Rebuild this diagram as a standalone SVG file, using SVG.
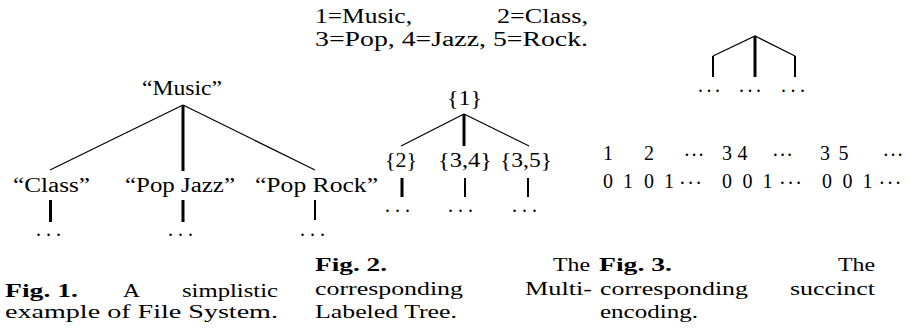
<svg xmlns="http://www.w3.org/2000/svg" width="910" height="335" viewBox="0 0 910 335" font-family="'Liberation Serif', 'DejaVu Serif', 'Noto Serif', 'Times New Roman', Times, serif">
<style>
text{font-family:'Liberation Serif','DejaVu Serif','Noto Serif','Times New Roman',Times,serif;font-size:20px;fill:#000}
.cap{font-size:19px}
.b{font-weight:bold}
.thin{stroke:#000;stroke-width:1.2;fill:none}
.thick{stroke:#000;stroke-width:3;fill:none}
.med{stroke:#000;stroke-width:2;fill:none}
</style>
<rect width="910" height="335" fill="#fff"/>
<g id="connectors">
<line class="thin" x1="183" y1="105" x2="50" y2="170"/>
<line class="thick" x1="183" y1="105" x2="183" y2="171"/>
<line class="thin" x1="183" y1="105" x2="315" y2="170"/>
<line class="thick" x1="50.5" y1="200" x2="50.5" y2="222"/>
<line class="thick" x1="183" y1="200" x2="183" y2="222"/>
<line class="med" x1="315" y1="200" x2="315" y2="220"/>
<line class="thin" x1="464" y1="114" x2="401" y2="146"/>
<line class="thick" x1="464" y1="114" x2="464" y2="146"/>
<line class="thin" x1="464" y1="114" x2="529" y2="146"/>
<line class="thick" x1="402" y1="178" x2="402" y2="197"/>
<line class="med" x1="465" y1="178" x2="465" y2="197"/>
<line class="med" x1="528" y1="178" x2="528" y2="197"/>
<polyline class="thin" points="713,56 755,36 795,56"/>
<line class="med" x1="713" y1="56" x2="713" y2="77"/>
<line class="thick" x1="755" y1="36" x2="755" y2="77"/>
<line class="med" x1="795" y1="56" x2="795" y2="77"/>
</g>
<g id="music"><text x="142" y="95" textLength="80" lengthAdjust="spacingAndGlyphs">“Music”</text></g>
<g id="class"><text x="13" y="192" textLength="77" lengthAdjust="spacingAndGlyphs">“Class”</text></g>
<g id="popjazz"><text x="125" y="192" textLength="110" lengthAdjust="spacingAndGlyphs">“Pop Jazz”</text></g>
<g id="poprock"><text x="255" y="192" textLength="123" lengthAdjust="spacingAndGlyphs">“Pop Rock”</text></g>
<g id="dots1">
<text x="36" y="236" textLength="25" lengthAdjust="spacing">...</text>
<text x="168" y="236" textLength="25" lengthAdjust="spacing">...</text>
<text x="300" y="236" textLength="25" lengthAdjust="spacing">...</text>
</g>
<g id="legend">
<text x="315" y="23" textLength="97" lengthAdjust="spacingAndGlyphs">1=Music,</text>
<text x="497" y="23" textLength="91" lengthAdjust="spacingAndGlyphs">2=Class,</text>
<text x="315" y="46" textLength="273" lengthAdjust="spacingAndGlyphs">3=Pop, 4=Jazz, 5=Rock.</text>
</g>
<g id="n1"><text x="447" y="105" textLength="35" lengthAdjust="spacingAndGlyphs">{1}</text></g>
<g id="n2"><text x="385" y="167" textLength="32" lengthAdjust="spacingAndGlyphs">{2}</text></g>
<g id="n34"><text x="438" y="167" textLength="54" lengthAdjust="spacingAndGlyphs">{3,4}</text></g>
<g id="n35"><text x="500" y="167" textLength="52" lengthAdjust="spacingAndGlyphs">{3,5}</text></g>
<g id="dots2">
<text x="385" y="212" textLength="25" lengthAdjust="spacing">...</text>
<text x="448" y="212" textLength="25" lengthAdjust="spacing">...</text>
<text x="512" y="212" textLength="25" lengthAdjust="spacing">...</text>
</g>
<g id="dots3">
<text x="698" y="92" textLength="22" lengthAdjust="spacing">...</text>
<text x="739" y="92" textLength="22" lengthAdjust="spacing">...</text>
<text x="781" y="92" textLength="24" lengthAdjust="spacing">...</text>
</g>
<g id="encoding" text-anchor="middle">
<text x="608" y="160">1</text>
<text x="649" y="160">2</text>
<text x="694" y="162" textLength="21" lengthAdjust="spacing">···</text>
<text x="727" y="160">3</text>
<text x="742.5" y="160">4</text>
<text x="782.5" y="162" textLength="21" lengthAdjust="spacing">···</text>
<text x="825" y="160">3</text>
<text x="843.5" y="160">5</text>
<text x="893" y="162" textLength="21" lengthAdjust="spacing">···</text>
<text x="608" y="188">0</text>
<text x="628" y="188">1</text>
<text x="649" y="188">0</text>
<text x="669" y="188">1</text>
<text x="690.5" y="190" textLength="23" lengthAdjust="spacing">···</text>
<text x="727" y="188">0</text>
<text x="747.5" y="188">0</text>
<text x="767.5" y="188">1</text>
<text x="790.5" y="190" textLength="23" lengthAdjust="spacing">···</text>
<text x="827" y="188">0</text>
<text x="847.5" y="188">0</text>
<text x="867.5" y="188">1</text>
<text x="890" y="190" textLength="23" lengthAdjust="spacing">···</text>
</g>
<g id="caption1">
<text class="cap b" x="5" y="297" textLength="73" lengthAdjust="spacingAndGlyphs">Fig. 1.</text>
<text class="cap" x="123" y="297" textLength="17" lengthAdjust="spacingAndGlyphs">A</text>
<text class="cap" x="182" y="297" textLength="96" lengthAdjust="spacingAndGlyphs">simplistic</text>
<text class="cap" x="5" y="318" textLength="273" lengthAdjust="spacingAndGlyphs">example of File System.</text>
</g>
<g id="caption2">
<text class="cap b" x="315" y="271" textLength="72" lengthAdjust="spacingAndGlyphs">Fig. 2.</text>
<text class="cap" x="553" y="271" textLength="37" lengthAdjust="spacingAndGlyphs">The</text>
<text class="cap" x="315" y="295" textLength="148" lengthAdjust="spacingAndGlyphs">corresponding</text>
<text class="cap" x="525" y="295" textLength="67" lengthAdjust="spacingAndGlyphs">Multi-</text>
<text class="cap" x="315" y="318" textLength="142" lengthAdjust="spacingAndGlyphs">Labeled Tree.</text>
</g>
<g id="caption3">
<text class="cap b" x="599" y="271" textLength="73" lengthAdjust="spacingAndGlyphs">Fig. 3.</text>
<text class="cap" x="838" y="271" textLength="37" lengthAdjust="spacingAndGlyphs">The</text>
<text class="cap" x="600" y="295" textLength="148" lengthAdjust="spacingAndGlyphs">corresponding</text>
<text class="cap" x="790" y="295" textLength="85" lengthAdjust="spacingAndGlyphs">succinct</text>
<text class="cap" x="600" y="318" textLength="98" lengthAdjust="spacingAndGlyphs">encoding.</text>
</g>
</svg>
